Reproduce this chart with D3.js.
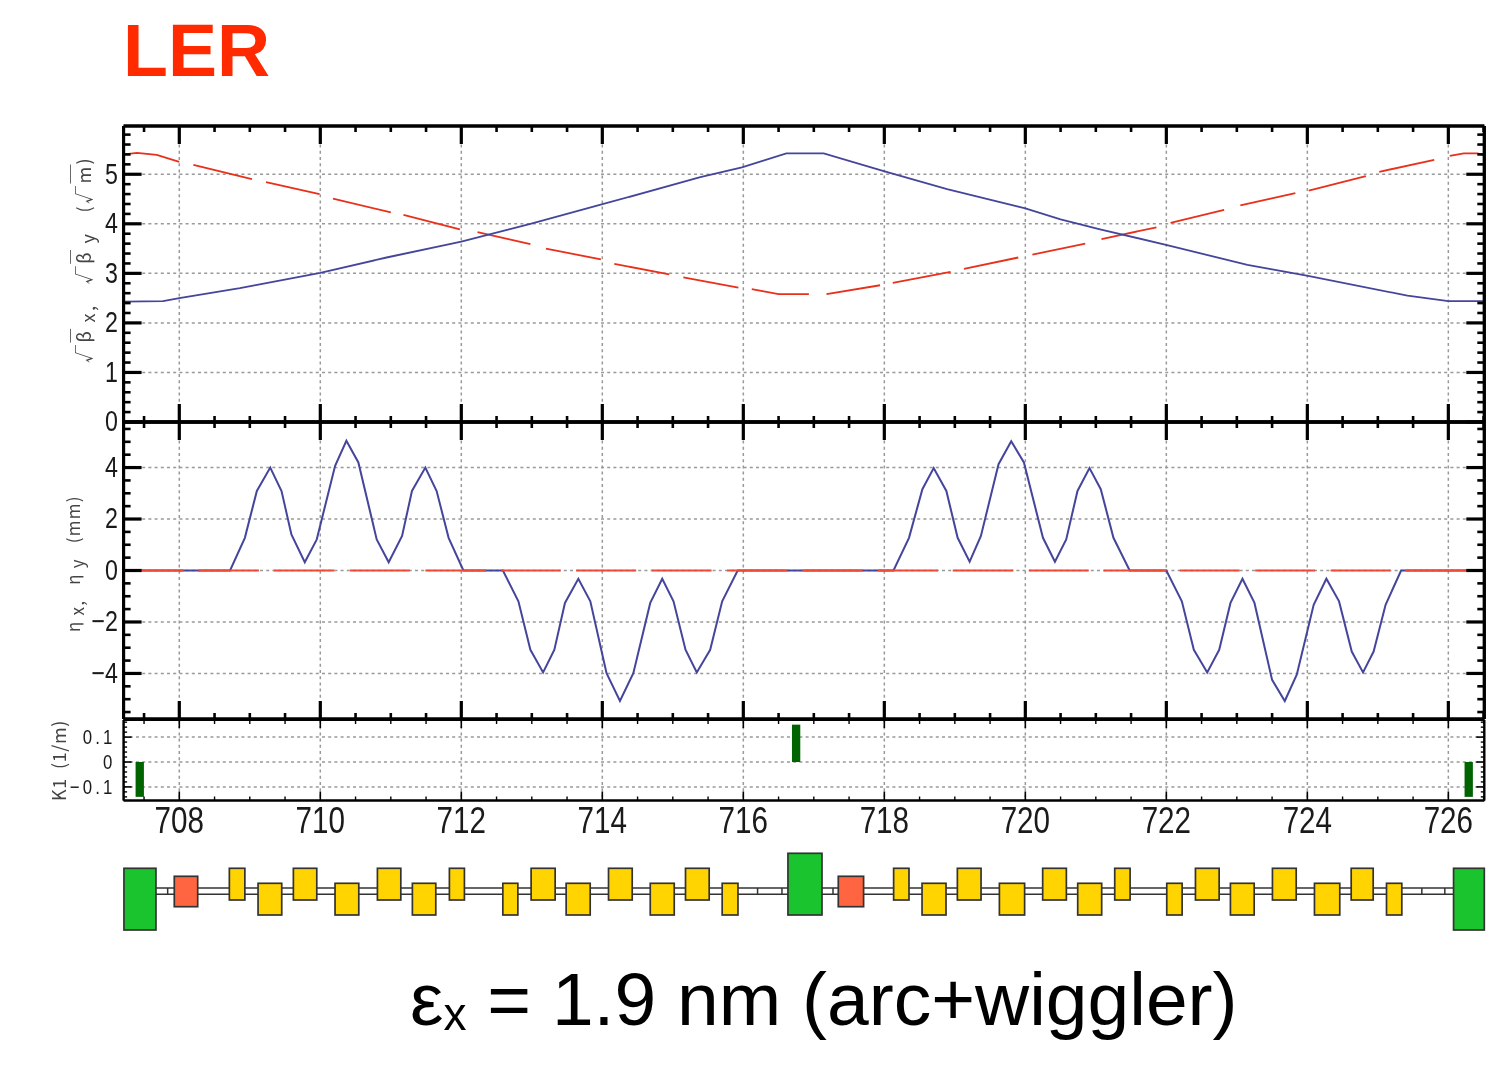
<!DOCTYPE html>
<html><head><meta charset="utf-8">
<script src="https://cdn.jsdelivr.net/npm/d3@7"></script>
<style>
html,body{margin:0;padding:0;background:#fff;overflow:hidden}
svg{display:block}
text{font-family:"Liberation Sans",sans-serif;fill:#1a1a1a}
</style></head><body><svg id="c" width="1512" height="1066"></svg>
<script>
// ---------- data (s in metres) ----------
const sTicks=[708,710,712,714,716,718,720,722,724,726];
const sMinor=[707.5,708.5,709,709.5,710.5,711,711.5,712.5,713,713.5,714.5,715,715.5,716.5,717,717.5,718.5,719,719.5,720.5,721,721.5,722.5,723,723.5,724.5,725,725.5,726.5];
const betaTicks=[0,1,2,3,4,5];
const etaTicks=[-4,-2,0,2,4];
const k1Ticks=[-0.1,0,0.1];

const betaXS=[707.22,707.40,707.68,708.00,null,708.20,709.03,null,709.23,709.99,null,710.18,711.00,null,711.18,711.98,null,712.23,712.98,null,713.20,713.98,null,714.17,714.95,null,715.15,715.93,null,716.12,716.50,716.93,null,717.18,717.94,null,718.12,718.94,null,719.13,719.90,null,720.10,720.85,null,721.08,721.86,null,722.06,722.82,null,723.05,723.83,null,724.02,724.83,null,725.02,725.80,null,726.02,726.22,726.41,726.50];
const betaXV=[5.40,5.43,5.39,5.25,null,5.19,4.90,null,4.84,4.60,null,4.51,4.23,null,4.18,3.89,null,3.83,3.59,null,3.50,3.28,null,3.19,2.98,null,2.92,2.71,null,2.68,2.58,2.58,null,2.58,2.76,null,2.81,3.03,null,3.09,3.32,null,3.38,3.60,null,3.69,3.93,null,4.02,4.28,null,4.37,4.62,null,4.67,4.96,null,5.05,5.29,null,5.37,5.42,5.42,5.39];
const betaYS=[707.22,707.77,708.00,708.86,710.00,710.94,711.70,712.00,712.98,713.99,715.39,715.98,716.61,717.14,717.98,718.89,720.00,720.50,721.06,722.01,723.15,724.01,725.42,726.00,726.50];
const betaYV=[2.43,2.44,2.50,2.70,3.01,3.32,3.55,3.64,4.00,4.39,4.94,5.14,5.42,5.42,5.07,4.70,4.31,4.09,3.89,3.57,3.17,2.95,2.55,2.44,2.44];

const etaXS=[707.22,708.72,708.93,709.10,709.29,709.45,709.59,709.78,709.95,710.21,710.37,710.54,710.80,710.97,711.16,711.30,711.49,711.65,711.82,712.03,712.59,712.81,712.98,713.16,713.32,713.47,713.66,713.83,714.06,714.25,714.44,714.68,714.85,715.01,715.18,715.34,715.53,715.70,715.92,718.13,718.35,718.54,718.70,718.88,719.04,719.21,719.37,719.62,719.80,719.98,720.25,720.42,720.58,720.74,720.91,721.07,721.25,721.48,722.00,722.22,722.39,722.58,722.75,722.91,723.08,723.25,723.50,723.68,723.85,724.09,724.27,724.45,724.63,724.79,724.94,725.11,725.33,726.50];
const etaXV=[0,0,1.27,3.09,4.00,3.09,1.40,0.32,1.21,4.07,5.04,4.20,1.21,0.32,1.34,3.09,4.00,3.09,1.27,0,0,-1.20,-3.08,-3.96,-3.08,-1.26,-0.32,-1.20,-3.99,-5.07,-3.99,-1.26,-0.32,-1.20,-3.08,-3.96,-3.08,-1.20,0,0,1.27,3.16,3.98,3.09,1.27,0.34,1.34,4.13,5.02,4.20,1.27,0.34,1.21,3.09,3.98,3.16,1.27,0,0,-1.20,-3.08,-3.96,-3.08,-1.26,-0.32,-1.26,-4.25,-5.07,-4.05,-1.33,-0.32,-1.20,-3.15,-3.96,-3.15,-1.33,0,0];
const etaYStart=[707.22,708.27,709.34,710.42,711.49,712.57,713.63,714.70,715.77,716.84,717.91,718.97,720.05,721.11,722.19,723.26,724.33,725.39];
const etaYEnd=[708.06,709.13,710.20,711.27,712.35,713.41,714.48,715.55,716.62,717.69,718.76,719.83,720.90,722.00,723.04,724.11,725.18,726.27];

const k1Start=[707.38,716.69,726.23];
const k1Width=[0.118,0.118,0.118];
const k1Value=[-0.14,0.15,-0.14];

const magStart=[707.215,707.929,708.71,709.117,709.618,710.209,710.81,711.306,711.831,712.589,712.99,713.487,714.088,714.68,715.18,715.70,716.633,717.347,718.132,718.535,719.036,719.632,720.246,720.743,721.268,722.006,722.413,722.909,723.505,724.101,724.622,725.123,726.074];
const magEnd=[707.669,708.261,708.93,709.453,709.95,710.546,711.142,711.638,712.044,712.802,713.331,713.828,714.424,715.02,715.516,715.924,717.116,717.706,718.35,718.875,719.372,719.99,720.582,721.083,721.486,722.224,722.749,723.246,723.842,724.46,724.934,725.34,726.51];
const magKind=["bendS","sext","up","down","up","down","up","down","up","down","up","down","up","down","up","down","bendL","sext","up","down","up","down","up","down","up","down","up","down","up","down","up","down","bendS"];
const markerS=[707.835,716.202,716.548,717.272,725.624,725.95];

// ---------- layout ----------
const L=123.6,R=1484.3;
const x=d3.scaleLinear().domain([707.21,726.51]).range([L,R]);
const P1={t:126,b:422},P2={t:422,b:719},P3={t:720,b:800.5};
const y1=d3.scaleLinear().domain([0,5.974]).range([P1.b,P1.t]);
const y2=d3.scaleLinear().domain([-5.77,5.77]).range([P2.b,P2.t]);
const y3=d3.scaleLinear().domain([-0.1546,0.1687]).range([P3.b,P3.t]);
const root=d3.select("#c");
const svg=root.append("g").style("filter","blur(0.45px)");
const BLUE="#45459c",RED="#e8301a";
const NARROW="scale(0.8,1)";

function grid(y,p,ticks){
  const g=svg.append("g");
  g.append("g").attr("transform",`translate(${L},0)`).call(d3.axisLeft(y).offset(0).tickValues(ticks).tickSize(-(R-L)).tickFormat("").tickSizeOuter(0));
  g.append("g").attr("transform",`translate(0,${p.t})`).call(d3.axisTop(x).offset(0).tickValues(sTicks).tickSize(-(p.b-p.t)).tickFormat("").tickSizeOuter(0));
  g.selectAll(".domain").remove();
  g.selectAll("line").attr("stroke","#999").attr("stroke-width",1.5).attr("stroke-dasharray","3 3.2");
}
function ax(gen,tx,ty,w){
  const g=svg.append("g").attr("transform",`translate(${tx},${ty})`).call(gen.offset(0));
  g.selectAll(".domain").attr("stroke","#000").attr("stroke-width",w.d);
  g.selectAll("line").attr("stroke","#000").attr("stroke-width",w.t);
  return g;
}
function frame(y,p,maj,min,o){
  const left=ax(d3.axisLeft(y).tickValues(maj).tickSize(-o.yM).tickPadding(o.pad).tickSizeOuter(0).tickFormat(o.fmt),L,0,{d:o.dw,t:o.mw});
  left.selectAll("text").attr("font-size",o.fs).attr("letter-spacing",o.ls||0).attr("fill","#1a1a1a").attr("transform",NARROW);
  ax(d3.axisLeft(y).tickValues(min).tickSize(-o.ym).tickFormat("").tickSizeOuter(0),L,0,{d:o.dw,t:o.nw});
  ax(d3.axisRight(y).tickValues(maj).tickSize(-o.yM).tickFormat("").tickSizeOuter(0),R,0,{d:o.dw,t:o.mw});
  ax(d3.axisRight(y).tickValues(min).tickSize(-o.ym).tickFormat("").tickSizeOuter(0),R,0,{d:o.dw,t:o.nw});
  ax(d3.axisTop(x).tickValues(sTicks).tickSize(-o.xT).tickFormat("").tickSizeOuter(0),0,p.t,{d:o.tw,t:o.mw});
  ax(d3.axisTop(x).tickValues(sMinor).tickSize(-o.xt).tickFormat("").tickSizeOuter(0),0,p.t,{d:o.tw,t:o.nw});
  ax(d3.axisBottom(x).tickValues(sTicks).tickSize(-o.xB).tickFormat("").tickSizeOuter(0),0,p.b,{d:o.bw,t:o.mw});
  ax(d3.axisBottom(x).tickValues(sMinor).tickSize(-o.xb).tickFormat("").tickSizeOuter(0),0,p.b,{d:o.bw,t:o.nw});
}

grid(y1,P1,betaTicks);grid(y2,P2,etaTicks);grid(y3,P3,k1Ticks);

// lines
function path(xs,vs,y,col,w){
  const pts=xs.map((s,i)=>[s,vs[i]]);
  svg.append("path").datum(pts).attr("fill","none").attr("stroke",col).attr("stroke-width",w)
    .attr("d",d3.line().defined(d=>d[0]!==null).x(d=>x(d[0])).y(d=>y(d[1])));
}
path(betaXS,betaXV,y1,RED,1.8);
path(betaYS,betaYV,y1,BLUE,1.8);
path(etaXS,etaXV,y2,BLUE,2);
svg.append("g").selectAll("line").data(etaYStart).join("line")
  .attr("x1",d=>x(d)).attr("x2",(d,i)=>x(etaYEnd[i])).attr("y1",y2(0)).attr("y2",y2(0))
  .attr("stroke","#ee4a35").attr("stroke-width",2.2);

// K1 bars
svg.append("g").selectAll("rect").data(k1Start).join("rect")
  .attr("x",d=>x(d)).attr("width",(d,i)=>x(d+k1Width[i])-x(d))
  .attr("y",(d,i)=>y3(Math.max(0,k1Value[i]))).attr("height",(d,i)=>Math.abs(y3(k1Value[i])-y3(0)))
  .attr("fill","#006400");

const minus=s=>String(s).replace("-","\u2212");
frame(y1,P1,betaTicks,d3.range(0,6,0.2).filter(v=>Math.abs(v-Math.round(v))>1e-6),
  {fmt:d=>d,pad:7,fs:29,yM:18,ym:7,xT:18,xt:6,xB:18,xb:6,dw:3,tw:3,bw:3,mw:3.2,nw:2.6});
frame(y2,P2,etaTicks,d3.range(-5.5,5.75,0.5).filter(v=>Math.abs(v%2)>1e-6),
  {fmt:d=>minus(d),pad:7,fs:29,yM:18,ym:7,xT:18,xt:6,xB:18,xb:6,dw:3,tw:3,bw:3,mw:3.2,nw:2.6});
frame(y3,P3,k1Ticks,d3.range(-0.14,0.17,0.02).filter(v=>Math.abs(v*10-Math.round(v*10))>1e-6),
  {fmt:d=>minus(d),pad:10,fs:21,ls:4,yM:8,ym:3.5,xT:8,xt:4,xB:9,xb:4,dw:2,tw:1.8,bw:2,mw:1.6,nw:1.4});

// s-axis labels
const sl=svg.append("g").attr("transform",`translate(0,${P3.b})`)
  .call(d3.axisBottom(x).offset(0).tickValues(sTicks).tickSize(0).tickPadding(6).tickFormat(d=>d));
sl.select(".domain").remove();
sl.selectAll("text").attr("font-size",37).attr("fill","#1a1a1a").attr("transform",NARROW);

// axis titles
function ytitle(px,py,parts,size,ls){
  const t=svg.append("text").attr("transform",`translate(${px},${py}) rotate(-90)`)
    .attr("font-size",size).attr("fill","#444").attr("letter-spacing",ls)
    .style("font-family",'"Noto Sans CJK JP","DejaVu Sans",sans-serif').style("white-space","pre").style("fill","#444");
  parts.forEach(p=>{
    const s=t.append("tspan").text(p.t);
    if(p.o)s.attr("text-decoration","overline");
    if(p.sub)s.attr("dy",p.sub);
  });
}
ytitle(91,363,[{t:"√"},{t:"β",o:1},{t:" x,",sub:4},{t:"   √",sub:-4},{t:"β",o:1},{t:" y",sub:4},{t:"   (√",sub:-4},{t:"m",o:1},{t:")"}],18,2.4);
ytitle(80,632,[{t:"η"},{t:" x,",sub:4},{t:"   η",sub:-4},{t:" y",sub:4},{t:"   (mm)",sub:-4}],17,1.2);
ytitle(66,801,[{t:"K1  (1/m)"}],18,0.6);

// lattice
const kinds={bendS:[868.3,930],bendL:[853.3,915],sext:[876.3,906.7],up:[868.3,900],down:[883.3,915]};
const fills={bendS:"#19c42f",bendL:"#19c42f",sext:"#ff6540",up:"#ffd400",down:"#ffd400"};
const lat=svg.append("g");
[888,894.3].forEach(v=>lat.append("line").attr("x1",L).attr("x2",R).attr("y1",v).attr("y2",v).attr("stroke","#333").attr("stroke-width",1.5));
lat.selectAll(".mk").data(markerS).join("line").attr("class","mk")
  .attr("x1",d=>x(d)).attr("x2",d=>x(d)).attr("y1",888).attr("y2",894.3).attr("stroke","#333").attr("stroke-width",1.5);
lat.selectAll("rect").data(magStart).join("rect")
  .attr("x",d=>x(d)).attr("width",(d,i)=>x(magEnd[i])-x(d))
  .attr("y",(d,i)=>kinds[magKind[i]][0]).attr("height",(d,i)=>kinds[magKind[i]][1]-kinds[magKind[i]][0])
  .attr("fill",(d,i)=>fills[magKind[i]]).attr("stroke","#333").attr("stroke-width",1.7);

// titles
root.append("text").attr("x",123).attr("y",75.5).attr("font-size",73.5).attr("font-weight",700)
  .style("fill","#ff2a00").text("LER");
const cap=root.append("text").attr("x",410).attr("y",1025).attr("font-size",75).style("fill","#000");
cap.append("tspan").text("ε");
cap.append("tspan").attr("font-size",46).attr("dy",5).text("x");
cap.append("tspan").attr("dy",-5).text(" = 1.9 nm (arc+wiggler)");
</script></body></html>
